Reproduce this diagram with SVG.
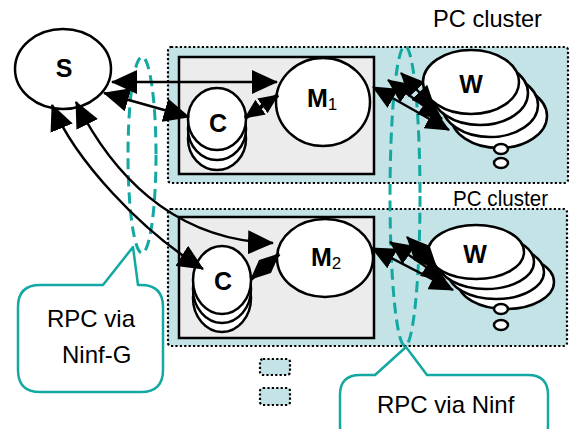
<svg xmlns="http://www.w3.org/2000/svg" width="571" height="429" viewBox="0 0 571 429">
<style>
.cluster{fill:#c4e3e6;stroke:#000;stroke-width:2.2;stroke-dasharray:2.2 2.2}
.legend{fill:#c4e3e6;stroke:#000;stroke-width:2.2;stroke-dasharray:2.2 2.2}
.box{fill:#ececec;stroke:#000;stroke-width:2.5}
.node{fill:#fff;stroke:#000;stroke-width:2.5}
.rpc{fill:none;stroke:#14a8a2;stroke-width:3;stroke-dasharray:11 6}
.bubble{fill:#fff;stroke:#14a8a2;stroke-width:2.5;stroke-linejoin:round}
.lbl{font-family:"Liberation Sans",Arial,sans-serif;font-weight:bold;font-size:25px;fill:#000}
.sub{font-weight:normal;font-size:17px}
.txt{font-family:"Liberation Sans",Arial,sans-serif;font-size:24px;fill:#000}
.conn{fill:none;stroke:#000;stroke-width:2.5}
.big{marker-start:url(#ah);marker-end:url(#ah)}
.mid{marker-start:url(#am);marker-end:url(#am)}
.small{stroke-width:4;marker-start:url(#as);marker-end:url(#as)}
</style>
<defs>
<marker id="ah" markerUnits="userSpaceOnUse" viewBox="0 0 26 24" markerWidth="26" markerHeight="24" refX="25" refY="12" orient="auto-start-reverse"><path d="M0,0 L26,12 L0,24 z" fill="#000"/></marker>
<marker id="am" markerUnits="userSpaceOnUse" viewBox="0 0 24 22" markerWidth="24" markerHeight="22" refX="23" refY="11" orient="auto-start-reverse"><path d="M0,0 L24,11 L0,22 z" fill="#000"/></marker>
<marker id="as" markerUnits="userSpaceOnUse" viewBox="0 0 20 18" markerWidth="20" markerHeight="18" refX="19" refY="9" orient="auto-start-reverse"><path d="M0,0 L20,9 L0,18 z" fill="#000"/></marker>
</defs>

<g id="cluster1">
<rect class="cluster" x="168" y="47" width="400" height="136" rx="3"/>
<text class="txt" x="433" y="27" textLength="109" lengthAdjust="spacingAndGlyphs">PC cluster</text>
</g>
<g id="cluster2">
<rect class="cluster" x="168" y="209" width="399" height="137" rx="3"/>
<text class="txt" x="453" y="206" textLength="95" lengthAdjust="spacingAndGlyphs" style="font-size:22px">PC cluster</text>
</g>
<g id="legend">
<rect class="legend" x="260" y="359" width="30" height="16" rx="3"/>
<rect class="legend" x="260" y="388" width="30" height="17" rx="3"/>
</g>
<g id="box1"><rect class="box" x="179" y="57" width="195" height="117"/></g>
<g id="box2"><rect class="box" x="179" y="217" width="195" height="121"/></g>

<g id="rpc-ninfg"><ellipse class="rpc" cx="142" cy="155" rx="14" ry="98"/></g>
<g id="rpc-ninf"><ellipse class="rpc" cx="405" cy="196" rx="15" ry="150"/></g>

<g id="S">
<ellipse class="node" cx="63" cy="69" rx="48" ry="40"/>
<text class="lbl" x="64" y="77" text-anchor="middle">S</text>
</g>
<g id="C1">
<ellipse class="node" cx="217" cy="139" rx="29" ry="31"/>
<ellipse class="node" cx="217" cy="129" rx="29" ry="31"/>
<ellipse class="node" cx="217" cy="119" rx="29" ry="31"/>
<text class="lbl" x="218" y="132" text-anchor="middle">C</text>
</g>
<g id="M1">
<ellipse class="node" cx="323" cy="102" rx="47" ry="44"/>
<text class="lbl" x="307" y="107">M<tspan class="sub" dy="3">1</tspan></text>
</g>
<g id="W1">
<ellipse class="node" cx="499" cy="116" rx="48" ry="32"/>
<ellipse class="node" cx="490" cy="105" rx="48" ry="32"/>
<ellipse class="node" cx="480" cy="93" rx="48" ry="32"/>
<ellipse class="node" cx="471" cy="82" rx="48" ry="32"/>
<ellipse class="node" cx="501" cy="149" rx="7" ry="5"/>
<ellipse class="node" cx="501" cy="163" rx="7" ry="5"/>
<text class="lbl" x="471" y="93" text-anchor="middle">W</text>
</g>
<g id="C2">
<ellipse class="node" cx="222" cy="298" rx="29" ry="34"/>
<ellipse class="node" cx="222" cy="289" rx="29" ry="34"/>
<ellipse class="node" cx="222" cy="280" rx="29" ry="34"/>
<text class="lbl" x="223" y="290" text-anchor="middle">C</text>
</g>
<g id="M2">
<ellipse class="node" cx="325" cy="258" rx="48" ry="39"/>
<text class="lbl" x="311" y="266">M<tspan class="sub" dy="3">2</tspan></text>
</g>
<g id="W2">
<ellipse class="node" cx="506" cy="282" rx="48" ry="27"/>
<ellipse class="node" cx="496" cy="272" rx="48" ry="27"/>
<ellipse class="node" cx="486" cy="262" rx="48" ry="27"/>
<ellipse class="node" cx="476" cy="252" rx="48" ry="27"/>
<ellipse class="node" cx="501" cy="309" rx="7" ry="5"/>
<ellipse class="node" cx="501" cy="325" rx="7" ry="5"/>
<text class="lbl" x="475" y="263" text-anchor="middle">W</text>
</g>

<g id="connectors">
<path class="conn big" d="M112,82 L277,82"/>
<path class="conn big" d="M104,93 L189,117"/>
<path class="conn big" d="M52,105 C75,160 140,230 203,269"/>
<path class="conn big" d="M76,102 C110,170 170,240 273,243"/>
<path class="conn small" d="M245,118 L278,95"/>
<path class="conn small" d="M251,279 L279,254"/>
<path class="conn mid" d="M373,87 L449,130"/>
<path class="conn mid" d="M388,80 L442,119"/>
<path class="conn mid" d="M401,73 L435,109"/>
<path class="conn mid" d="M372,248 L453,290"/>
<path class="conn mid" d="M390,242 L445,280"/>
<path class="conn mid" d="M407,237 L437,269"/>
</g>

<g id="bubble-ninfg">
<path class="bubble" d="M40,285 L103,285 L133,247 L138,285 L141,285 Q163,285 163,307 L163,370 Q163,392 141,392 L40,392 Q18,392 18,370 L18,307 Q18,285 40,285 Z"/>
<text class="txt" x="47" y="327">RPC via</text>
<text class="txt" x="62" y="363">Ninf-G</text>
</g>
<g id="bubble-ninf">
<path class="bubble" d="M360,375 L375,375 L406,347 L427,375 L528,375 Q548,375 548,395 L548,425 Q548,445 528,445 L360,445 Q340,445 340,425 L340,395 Q340,375 360,375 Z"/>
<text class="txt" x="377" y="413">RPC via Ninf</text>
</g>
</svg>
